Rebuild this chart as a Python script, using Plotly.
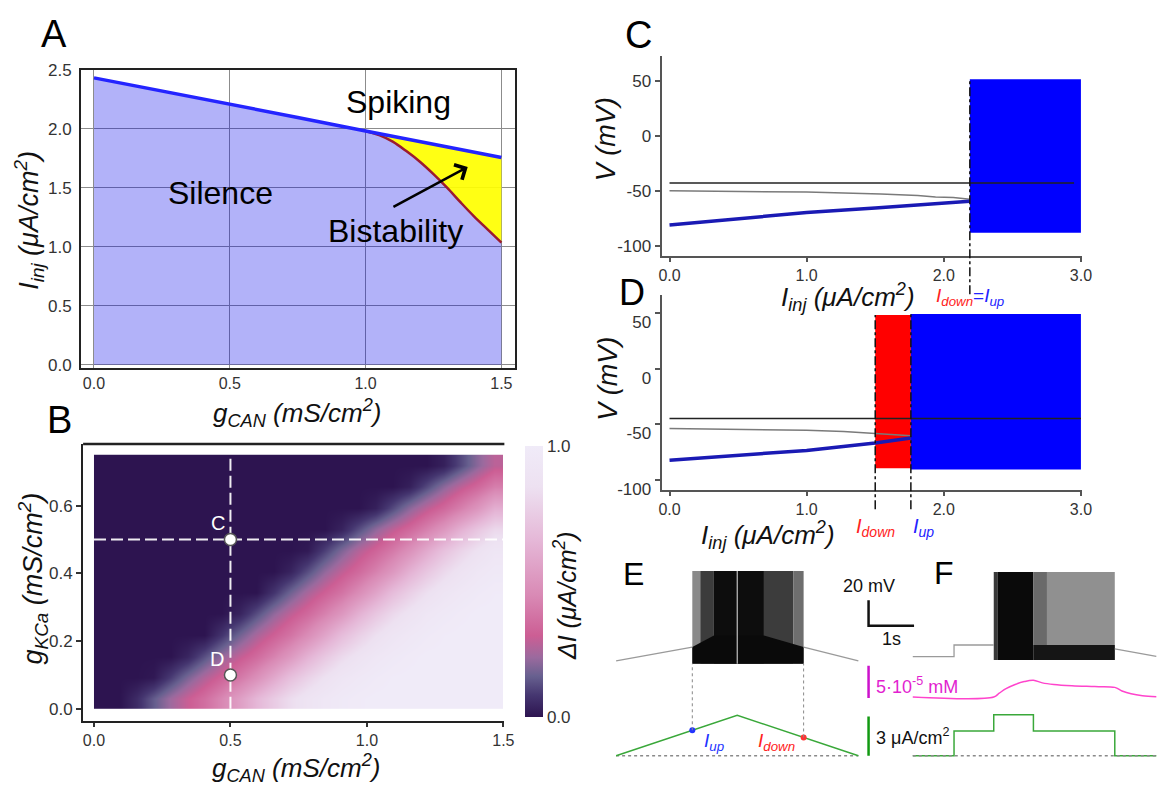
import plotly.graph_objects as go

W, H = 1170, 795
FONT = "Liberation Sans"


def px(x):
    return x / W


def py(y):
    return 1 - y / H


# ---------------- Panel A : bifurcation diagram ----------------
A_g_up = [0.0, 0.25, 0.5, 0.75, 1.0, 1.25, 1.5]
A_I_up = [2.43, 2.32, 2.21, 2.095, 1.98, 1.87, 1.755]
A_g_down = [1.0, 1.05, 1.1, 1.15, 1.2, 1.25, 1.3, 1.35, 1.4, 1.45, 1.5]
A_I_down = [1.98, 1.945, 1.89, 1.81, 1.72, 1.615, 1.50, 1.375, 1.255, 1.145, 1.035]
A_xticks = [0.0, 0.5, 1.0, 1.5]
A_yticks = [0.0, 0.5, 1.0, 1.5, 2.0, 2.5]

# ---------------- Panel B : Delta I map ----------------
B_gcan_edges = [0.0, 0.0625, 0.125, 0.1875, 0.25, 0.3125, 0.375, 0.4375, 0.5, 0.5625, 0.625,
                0.6875, 0.75, 0.8125, 0.875, 0.9375, 1.0, 1.0625, 1.125, 1.1875, 1.25, 1.3125,
                1.375, 1.4375, 1.5]
B_gkca_edges = [0.0, 0.0625, 0.125, 0.1875, 0.25, 0.3125, 0.375, 0.4375, 0.5, 0.5625, 0.625,
                0.6875, 0.75]
B_dI = [
    [0, 0, 0.055, 0.143, 0.225, 0.294, 0.356, 0.443, 0.538, 0.651, 0.744, 0.829, 0.891, 0.937, 0.968, 0.988, 1, 1, 1, 1, 1, 1, 1, 1],
    [0, 0, 0, 0.011, 0.09, 0.178, 0.255, 0.319, 0.389, 0.478, 0.583, 0.693, 0.779, 0.854, 0.916, 0.95, 0.976, 0.995, 1, 1, 1, 1, 1, 1],
    [0, 0, 0, 0, 0, 0.041, 0.124, 0.211, 0.281, 0.344, 0.424, 0.516, 0.628, 0.728, 0.814, 0.879, 0.93, 0.962, 0.984, 1, 1, 1, 1, 1],
    [0, 0, 0, 0, 0, 0, 0, 0.075, 0.162, 0.243, 0.308, 0.375, 0.462, 0.565, 0.676, 0.765, 0.843, 0.906, 0.944, 0.973, 0.992, 1, 1, 1],
    [0, 0, 0, 0, 0, 0, 0, 0, 0.035, 0.119, 0.205, 0.277, 0.339, 0.419, 0.507, 0.621, 0.721, 0.809, 0.874, 0.929, 0.96, 0.983, 1, 1],
    [0, 0, 0, 0, 0, 0, 0, 0, 0, 0, 0.074, 0.162, 0.242, 0.308, 0.374, 0.462, 0.563, 0.676, 0.764, 0.843, 0.905, 0.944, 0.973, 0.992],
    [0, 0, 0, 0, 0, 0, 0, 0, 0, 0, 0, 0.037, 0.12, 0.207, 0.278, 0.341, 0.42, 0.511, 0.624, 0.723, 0.81, 0.876, 0.929, 0.96],
    [0, 0, 0, 0, 0, 0, 0, 0, 0, 0, 0, 0, 0.014, 0.095, 0.182, 0.26, 0.322, 0.395, 0.482, 0.59, 0.697, 0.785, 0.857, 0.92],
    [0, 0, 0, 0, 0, 0, 0, 0, 0, 0, 0, 0, 0, 0, 0.036, 0.12, 0.206, 0.278, 0.34, 0.42, 0.509, 0.622, 0.722, 0.81],
    [0, 0, 0, 0, 0, 0, 0, 0, 0, 0, 0, 0, 0, 0, 0, 0, 0.029, 0.112, 0.199, 0.272, 0.334, 0.412, 0.499, 0.612],
    [0, 0, 0, 0, 0, 0, 0, 0, 0, 0, 0, 0, 0, 0, 0, 0, 0, 0, 0.028, 0.111, 0.198, 0.272, 0.334, 0.411],
    [0, 0, 0, 0, 0, 0, 0, 0, 0, 0, 0, 0, 0, 0, 0, 0, 0, 0, 0, 0, 0.028, 0.111, 0.198, 0.272],
]
B_pts_gcan = [0.5, 0.5]
B_pts_gkca = [0.5, 0.1]
B_pts_lbl = ["C", "D"]
B_xticks = [0.0, 0.5, 1.0, 1.5]
B_yticks = [0.0, 0.2, 0.4, 0.6]
B_cbar_ticks = [0.0, 1.0]

# ---------------- Panel C ----------------
C_I_black = [0.0, 2.95]
C_V_black = [-42.3, -42.3]
C_I_gray = [0.0, 1.0, 1.54, 1.81, 1.94, 2.07, 2.19]
C_V_gray = [-49.4, -50.6, -52.4, -53.6, -55.0, -55.5, -57.0]
C_I_blue = [0.0, 0.5, 1.0, 1.5, 2.0, 2.19]
C_V_blue = [-80.4, -74.5, -69.2, -65.1, -60.6, -58.9]
C_spk_I = [2.19, 3.0]
C_spk_V = [-87.5, 51.8]
C_I_updown = 2.19

# ---------------- Panel D ----------------
D_I_black = [0.0, 3.0]
D_V_black = [-44.7, -44.7]
D_I_gray = [0.0, 1.0, 1.27, 1.5, 1.62, 1.76]
D_V_gray = [-53.8, -55.3, -56.4, -58.2, -59.4, -60.2]
D_I_blue = [0.0, 0.5, 1.0, 1.5, 1.76]
D_V_blue = [-82.2, -77.6, -73.4, -66.7, -62.3]
D_red_I = [1.5, 1.76]
D_red_V = [-89.5, 48.2]
D_blu_I = [1.76, 3.0]
D_blu_V = [-90.5, 49.0]
D_I_down = 1.5
D_I_up = 1.76

CD_xticks = [0.0, 1.0, 2.0, 3.0]
CD_yticks = [-100, -50, 0, 50]

# ---------------- Panel E (ramp protocol) ----------------
E_ramp_t = [0.0, 2.663, 5.326]
E_ramp_I = [0.0, 3.1, 0.0]
E_pre_t = [0.0, 1.675]
E_pre_V = [-60.0, -49.2]
E_post_t = [4.122, 5.326]
E_post_V = [-49.2, -60.0]
E_spk_t = [1.675, 4.122]
E_spk_V = [-62.3, 10.8]
E_shade_t = [1.675, 1.85, 2.15, 3.25, 3.9, 4.122]
E_trough_t = [1.675, 2.15, 3.25, 4.122]
E_trough_V = [-49.0, -40.0, -40.0, -49.0]
E_peak_t = 2.663
E_up = (1.675, 1.95)
E_down = (4.122, 1.4)

# ---------------- Panel F (step protocol) ----------------
F_t0 = 6.522
F_step_t = [0.0, 0.907, 1.78, 2.652, 4.441, 5.354]
F_step_I = [0.0, 1.9, 3.15, 1.9, 0.0, 0.0]
F_pre_t = [0.0, 0.907, 1.78]
F_pre_V = [-56.7, -47.5, -47.5]
F_post_t = [4.441, 5.354]
F_post_V = [-50.5, -56.5]
F_spk_t = [1.78, 4.441]
F_spk_V = [-59.2, 10.0]
F_shade_t = [1.78, 1.86, 2.652, 2.95, 4.441]
F_trough_V = -47.5
F_Ca_t = [0.0, 1.78, 1.9, 2.05, 2.25, 2.45, 2.652, 2.85, 3.1, 3.5, 4.0, 4.441, 4.6, 4.8, 5.05, 5.354]
F_Ca = [5.0, 5.0, 5.6, 6.3, 6.95, 7.4, 7.6, 7.2, 6.95, 6.75, 6.62, 6.5, 5.95, 5.5, 5.2, 5.05]  # x1e-5 mM

# scale bars
SB_t = 5.55
SB_V = -32.3
SB_mV = 20
SB_s = 1.0
SB_Ca = [4.85, 9.85]
SB_I = [0.0, 3.0]

# ---------------- axis ranges ----------------
A_XR = [-0.0473, 1.551]
A_YR = [-0.0248, 2.5]
B_XR = [-0.0399, 1.5036]
B_YR = [-0.0346, 0.782]
CD_XR = [-0.0577, 3.007]
C_YR = [-108.9, 73.1]
D_YR = [-108.8, 65.8]
EF_XR = [-0.4348, 11.957]
V_R = [-154.6, 22.31]
CA_R = [-8.03, 26.82]
I_R = [-1.95, 15.3]


def frac(v, r):
    return (v - r[0]) / (r[1] - r[0])


def v_to_i(v):
    return I_R[0] + frac(v, V_R) * (I_R[1] - I_R[0])


fig = go.Figure()


def add_line(x, y, xa, ya, color, width, dash=None, shape=None):
    fig.add_trace(go.Scatter(x=x, y=y, xaxis=xa, yaxis=ya, mode="lines",
                             line=dict(color=color, width=width, dash=dash, shape=shape),
                             hoverinfo="skip", showlegend=False))


def add_poly(x, y, xa, ya, color):
    fig.add_trace(go.Scatter(x=x, y=y, xaxis=xa, yaxis=ya, mode="lines", fill="toself",
                             fillcolor=color, line=dict(width=0, color=color),
                             hoverinfo="skip", showlegend=False))


def box(x0, x1, y0, y1):
    return [x0, x1, x1, x0, x0], [y0, y0, y1, y1, y0]


# ---- A ----
lav_x = A_g_up[:5] + A_g_down[1:]
lav_y = A_I_up[:5] + A_I_down[1:]
fig.add_trace(go.Scatter(x=lav_x, y=lav_y, xaxis="x", yaxis="y", mode="lines", fill="tozeroy",
                         fillcolor="rgba(0,0,235,0.30)", line=dict(width=0),
                         hoverinfo="skip", showlegend=False))
add_poly(A_g_up[4:] + A_g_down[::-1], A_I_up[4:] + A_I_down[::-1], "x", "y", "rgba(255,255,0,0.92)")
add_line(A_g_down, A_I_down, "x", "y", "#9b1b30", 2.5, shape="spline")
add_line(A_g_up, A_I_up, "x", "y", "#2424ff", 3.5)

# ---- B ----
B_cs = [[0.0, "#2d1450"], [0.08, "#453670"], [0.15, "#67608f"], [0.22, "#9b6a9e"],
        [0.3, "#cc5e94"], [0.45, "#d98ab5"], [0.65, "#e5b7d7"], [0.85, "#ede1f1"], [1.0, "#f0ebf8"]]
fig.add_trace(go.Heatmap(
    x=B_gcan_edges, y=B_gkca_edges, z=B_dI, xaxis="x2", yaxis="y2",
    zsmooth="best", zmin=0, zmax=1, colorscale=B_cs, hoverinfo="skip",
    colorbar=dict(x=px(528), xanchor="left", xpad=0, y=py(447), yanchor="top", ypad=0,
                  len=(724 - 447) / H, lenmode="fraction", thickness=18, thicknessmode="pixels",
                  outlinewidth=0, tickvals=B_cbar_ticks, ticktext=["%.1f" % v for v in B_cbar_ticks],
                  ticks="", tickfont=dict(size=17, color="#333", family=FONT))))
dash_w = "rgba(255,255,255,0.92)"
add_line([B_pts_gcan[0], B_pts_gcan[0]], [B_gkca_edges[0], B_gkca_edges[-1]], "x2", "y2", dash_w, 2, "12px,5px")
add_line([B_gcan_edges[0], B_gcan_edges[-1]], [B_pts_gkca[0], B_pts_gkca[0]], "x2", "y2", dash_w, 2, "12px,5px")
fig.add_trace(go.Scatter(x=B_pts_gcan, y=B_pts_gkca, xaxis="x2", yaxis="y2", mode="markers",
                         marker=dict(size=12, color="white", line=dict(color="#555", width=1.5)),
                         hoverinfo="skip", showlegend=False))

# ---- C ----
bx, by = box(C_spk_I[0], C_spk_I[1], C_spk_V[0], C_spk_V[1])
add_poly(bx, by, "x3", "y3", "#0000ff")
add_line(C_I_black, C_V_black, "x3", "y3", "#222", 1.5)
add_line(C_I_gray, C_V_gray, "x3", "y3", "#7a7a7a", 1.5)
add_line(C_I_blue, C_V_blue, "x3", "y3", "#1a1ab4", 3.5)

# ---- D ----
bx, by = box(D_red_I[0], D_red_I[1], D_red_V[0], D_red_V[1])
add_poly(bx, by, "x4", "y4", "#ff0000")
bx, by = box(D_blu_I[0], D_blu_I[1], D_blu_V[0], D_blu_V[1])
add_poly(bx, by, "x4", "y4", "#0000ff")
add_line(D_I_black, D_V_black, "x4", "y4", "#222", 1.5)
add_line(D_I_gray, D_V_gray, "x4", "y4", "#7a7a7a", 1.5)
add_line(D_I_blue, D_V_blue, "x4", "y4", "#1a1ab4", 3.5)

# ---- E ----
E_cols = ["#8a8a8a", "#3c3c3c", "#0d0d0d", "#3c3c3c", "#6e6e6e"]
for i in range(len(E_shade_t) - 1):
    bx, by = box(E_shade_t[i], E_shade_t[i + 1], E_spk_V[0], E_spk_V[1])
    add_poly(bx, by, "x5", "y5", E_cols[i])
add_poly(E_trough_t + [E_trough_t[-1], E_trough_t[0]], E_trough_V + [E_spk_V[0], E_spk_V[0]],
         "x5", "y5", "#0a0a0a")
add_line([E_peak_t, E_peak_t], E_spk_V, "x5", "y5", "rgba(255,255,255,0.75)", 1.2)
add_line(E_pre_t, E_pre_V, "x5", "y5", "#9a9a9a", 1.3)
add_line(E_post_t, E_post_V, "x5", "y5", "#9a9a9a", 1.3)
add_line([E_ramp_t[0], E_ramp_t[-1]], [0, 0], "x5", "y7", "#8a8a8a", 1.6, "dot")
add_line(E_ramp_t, E_ramp_I, "x5", "y7", "#3aa83a", 1.5)
fig.add_trace(go.Scatter(x=[E_up[0]], y=[E_up[1]], xaxis="x5", yaxis="y7", mode="markers",
                         marker=dict(size=6, color="#2233ff"), hoverinfo="skip", showlegend=False))
fig.add_trace(go.Scatter(x=[E_down[0]], y=[E_down[1]], xaxis="x5", yaxis="y7", mode="markers",
                         marker=dict(size=6, color="#ff3333"), hoverinfo="skip", showlegend=False))

# ---- F ----
F_cols = ["#3a3a3a", "#0a0a0a", "#6a6a6a", "#909090"]
for i in range(len(F_shade_t) - 1):
    bx, by = box(F_t0 + F_shade_t[i], F_t0 + F_shade_t[i + 1], F_spk_V[0], F_spk_V[1])
    add_poly(bx, by, "x5", "y5", F_cols[i])
bx, by = box(F_t0 + F_shade_t[2], F_t0 + F_shade_t[-1], F_spk_V[0], F_trough_V)
add_poly(bx, by, "x5", "y5", "#151515")
add_line([F_t0 + t for t in F_pre_t], F_pre_V, "x5", "y5", "#9a9a9a", 1.3, shape="hv")
add_line([F_t0 + t for t in F_post_t], F_post_V, "x5", "y5", "#9a9a9a", 1.3)
add_line([F_t0 + t for t in F_Ca_t], F_Ca, "x5", "y6", "#ff44cc", 1.5, shape="spline")
add_line([F_t0 + t for t in F_step_t], F_step_I, "x5", "y7", "#3aa83a", 1.5, shape="hv")
add_line([F_t0 + F_step_t[0], F_t0 + F_step_t[-1]], [0, 0], "x5", "y7", "#8a8a8a", 1.6, "dot")

# ---- scale bars ----
add_line([SB_t, SB_t, SB_t + SB_s], [SB_V + SB_mV, SB_V, SB_V], "x5", "y5", "#111", 2.5)
add_line([SB_t, SB_t], SB_Ca, "x5", "y6", "#cc11cc", 2.5)
add_line([SB_t, SB_t], SB_I, "x5", "y7", "#119911", 2.5)

# ---------------- shapes ----------------
shapes = [
    dict(type="line", xref="x2 domain", yref="y2 domain", x0=0, x1=1, y0=1, y1=1,
         line=dict(color="#222", width=2.5)),
    dict(type="line", xref="x3", yref="y3 domain", x0=C_I_updown, x1=C_I_updown,
         y0=-0.19, y1=frac(C_spk_V[1], C_YR), line=dict(color="#111", width=1.5, dash="dashdot")),
    dict(type="line", xref="x4", yref="y4 domain", x0=D_I_down, x1=D_I_down,
         y0=-0.10, y1=frac(D_red_V[1], D_YR), line=dict(color="#111", width=1.5, dash="dashdot")),
    dict(type="line", xref="x4", yref="y4 domain", x0=D_I_up, x1=D_I_up,
         y0=-0.10, y1=frac(D_blu_V[1], D_YR), line=dict(color="#111", width=1.5, dash="dashdot")),
    dict(type="line", xref="x5", yref="y7", x0=E_up[0], x1=E_up[0], y0=E_up[1], y1=v_to_i(E_spk_V[0]),
         line=dict(color="#888", width=1, dash="dot")),
    dict(type="line", xref="x5", yref="y7", x0=E_down[0], x1=E_down[0], y0=E_down[1], y1=v_to_i(E_spk_V[0]),
         line=dict(color="#888", width=1, dash="dot")),
]

# ---------------- annotations ----------------
ann = []


def note(x, y, text, size, color="#111", angle=0, xanchor="center", yanchor="middle",
         xref="paper", yref="paper", **kw):
    d = dict(x=x, y=y, xref=xref, yref=yref, text=text, showarrow=False, textangle=angle,
             xanchor=xanchor, yanchor=yanchor, font=dict(size=size, color=color, family=FONT))
    d.update(kw)
    ann.append(d)


# panel letters
for lt, (lx, ly), sz in [("A", (52, 26), 38), ("B", (57, 421), 38), ("C", (643, 27), 38),
                         ("D", (636, 290), 36), ("E", (638, 578), 32), ("F", (952, 577), 32)]:
    note(px(lx), py(ly), lt, sz, color="#000")

# axis titles
note(px(297), py(413), "<i>g<sub>CAN</sub> (mS/cm<sup>2</sup>)</i>", 26)
note(px(26), py(216), "<i>I<sub>inj</sub> (μA/cm<sup>2</sup>)</i>", 27, angle=-90)
note(px(296), py(777), "<i>g<sub>CAN</sub> (mS/cm<sup>2</sup>)</i>", 26)
note(px(30), py(583), "<i>g<sub>KCa</sub> (mS/cm<sup>2</sup>)</i>", 27, angle=-90)
note(px(569), py(600), "<i>ΔI (μA/cm<sup>2</sup>)</i>", 25, angle=-90)
note(px(854), py(295), "<i>I<sub>inj</sub> (μA/cm<sup>2</sup>)</i>", 26)
note(px(610), py(133), "<i>V (mV)</i>", 27, angle=-90)
note(px(774), py(538), "<i>I<sub>inj</sub> (μA/cm<sup>2</sup>)</i>", 26)
note(px(612), py(378), "<i>V (mV)</i>", 27, angle=-90)

# panel A region labels + arrow
note(1.121, 2.227, "Spiking", 32, color="#000", xref="x", yref="y")
note(0.466, 1.457, "Silence", 32, color="#000", xref="x", yref="y")
note(1.11, 1.134, "Bistability", 32, color="#000", xref="x", yref="y")
ann.append(dict(x=1.376, y=1.675, xref="x", yref="y", ax=1.097, ay=1.33, axref="x", ayref="y",
                text="", showarrow=True, arrowhead=4, arrowsize=1.3, arrowwidth=2.5,
                arrowcolor="#000", standoff=0, startstandoff=0))

# panel B point labels
note(0.453, 0.548, B_pts_lbl[0], 20, color="white", xref="x2", yref="y2")
note(0.45, 0.147, B_pts_lbl[1], 20, color="white", xref="x2", yref="y2")

# C / D current labels
note(C_I_updown, py(295),
     '<span style="color:#ff2222"><i>I<sub>down</sub></i></span>'
     '<span style="color:#2222ff">=<i>I<sub>up</sub></i></span>', 19, xref="x3")
note(D_I_down, py(531), '<i>I<sub>down</sub></i>', 20, color="#ff2222", xref="x4")
note(D_I_up, py(531), '<i>I<sub>up</sub></i>', 20, color="#2222ff", xref="x4", xanchor="left")

# E labels
note(px(718.5), py(750), '<i>I<sub>up</sub></i>', 19, color="#2233ff")
note(px(782), py(750), '<i>I<sub>down</sub></i>', 19, color="#ff2222")

# scale bar labels
note(SB_t, SB_V + SB_mV, "20 mV", 18, color="#111", xref="x5", yref="y5", yanchor="bottom", yshift=2)
note(SB_t + 0.5 * SB_s, SB_V, "1s", 18, color="#111", xref="x5", yref="y5", yanchor="top", yshift=-1)
note(SB_t, (SB_Ca[0] + SB_Ca[1]) / 2, "5·10<sup>-5</sup> mM", 18, color="#e21fd0",
     xref="x5", yref="y6", xanchor="left", xshift=5, yshift=-4)
note(SB_t, (SB_I[0] + SB_I[1]) / 2, "3 μA/cm<sup>2</sup>", 18, color="#111",
     xref="x5", yref="y7", xanchor="left", xshift=5)

TICKFONT = dict(size=17, color="#333", family=FONT)
CDFONT = dict(size=16, color="#333", family=FONT)


def fmt(vals, f="%.1f"):
    return [f % v for v in vals]


layout = dict(
    width=W, height=H, margin=dict(l=0, r=0, t=0, b=0),
    paper_bgcolor="white", plot_bgcolor="rgba(0,0,0,0)",
    font=dict(family=FONT, color="#111"), showlegend=False,
    xaxis=dict(domain=[px(79), px(518)], range=A_XR, anchor="y", showline=True, mirror=True,
               linecolor="#222", linewidth=2, showgrid=True, gridcolor="#8c8c8c", gridwidth=1,
               tickvals=A_xticks, ticktext=fmt(A_xticks), ticks="", tickfont=CDFONT, zeroline=False),
    yaxis=dict(domain=[py(367), py(62)], range=A_YR, anchor="x", showline=True, mirror=True,
               linecolor="#222", linewidth=2, showgrid=True, gridcolor="#8c8c8c", gridwidth=1,
               tickvals=A_yticks, ticktext=fmt(A_yticks), ticks="", tickfont=TICKFONT, zeroline=False,
               ticklabelstandoff=4),
    xaxis2=dict(domain=[px(81), px(507)], range=B_XR, anchor="y2", showline=True, linecolor="#222",
                linewidth=2, showgrid=False, zeroline=False, ticks="outside", ticklen=4, tickwidth=1.5,
                tickcolor="#333", tickvals=B_xticks, ticktext=fmt(B_xticks), tickfont=CDFONT),
    yaxis2=dict(domain=[py(728), py(445)], range=B_YR, anchor="x2", showline=True, linecolor="#222",
                linewidth=2, showgrid=False, zeroline=False, ticks="outside", ticklen=5, tickwidth=1.5,
                tickcolor="#333", tickvals=B_yticks, ticktext=fmt(B_yticks), tickfont=TICKFONT),
    xaxis3=dict(domain=[px(666), px(1091)], range=CD_XR, anchor="y3", showline=True, linecolor="#555",
                linewidth=2, showgrid=False, zeroline=False, ticks="outside", ticklen=4, tickwidth=1.5,
                tickcolor="#555", tickvals=CD_xticks, ticktext=fmt(CD_xticks), tickfont=CDFONT),
    yaxis3=dict(domain=[py(253), py(48)], range=C_YR, anchor="x3", showline=True, linecolor="#555",
                linewidth=2, showgrid=False, zeroline=False, ticks="outside", ticklen=5, tickwidth=1.5,
                tickcolor="#555", tickvals=CD_yticks, ticktext=fmt(CD_yticks, "%d"), tickfont=TICKFONT),
    xaxis4=dict(domain=[px(666), px(1091)], range=CD_XR, anchor="y4", showline=True, linecolor="#555",
                linewidth=2, showgrid=False, zeroline=False, ticks="outside", ticklen=4, tickwidth=1.5,
                tickcolor="#555", tickvals=CD_xticks, ticktext=fmt(CD_xticks), tickfont=CDFONT),
    yaxis4=dict(domain=[py(492), py(293)], range=D_YR, anchor="x4", showline=True, linecolor="#555",
                linewidth=2, showgrid=False, zeroline=False, ticks="outside", ticklen=5, tickwidth=1.5,
                tickcolor="#555", tickvals=CD_yticks, ticktext=fmt(CD_yticks, "%d"), tickfont=TICKFONT,
                ticklabelshift=9),
    xaxis5=dict(domain=[px(600), 1.0], range=EF_XR, anchor="y5", visible=False),
    yaxis5=dict(domain=[py(790), py(560)], range=V_R, anchor="x5", visible=False),
    yaxis6=dict(range=CA_R, anchor="x5", overlaying="y5", visible=False),
    yaxis7=dict(range=I_R, anchor="x5", overlaying="y5", visible=False),
    shapes=shapes,
    annotations=ann,
)
fig.update_layout(**layout)
fig.write_html("out.html", config={"displayModeBar": False},
               post_script="document.body.style.margin='0px';")
